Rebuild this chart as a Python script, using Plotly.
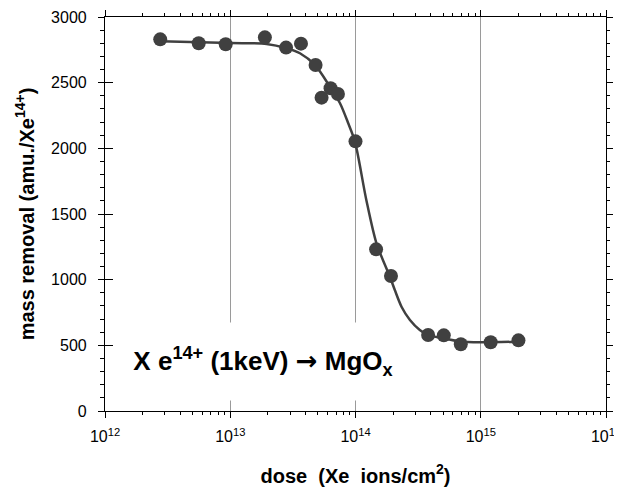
import plotly.graph_objects as go

# Measured data points
dose = [2.76e12, 5.6e12, 9.2e12, 1.89e13, 2.79e13, 3.67e13, 4.8e13, 5.36e13, 6.32e13,
        7.24e13, 1.0e14, 1.46e14, 1.92e14, 3.8e14, 5.07e14, 6.93e14, 1.20e15, 2.0e15]
mass = [2830, 2800, 2792, 2845, 2767, 2797, 2635, 2386, 2457,
        2414, 2053, 1231, 1028, 579, 576, 508, 523, 538]

# Fit curve
fit_dose = [2.76e12, 1.0e13, 1.95e13, 2.82e13, 3.6e13, 4.74e13, 6.25e13, 7.52e13, 8.75e13,
            9.9e13, 1.22e14, 1.47e14, 1.88e14, 2.06e14, 2.33e14, 2.72e14, 3.26e14, 3.8e14,
            5.0e14, 6.8e14, 9.84e14, 2.0e15]
fit_mass = [2815, 2802, 2795, 2762, 2724, 2635, 2469, 2343, 2191,
            2051, 1607, 1277, 1023, 921, 794, 693, 617, 579,
            553, 530, 523, 528]

xtick_vals = [1e12, 1e13, 1e14, 1e15, 1e16]
xtick_text = ["10<sup>12</sup>", "10<sup>13</sup>", "10<sup>14</sup>", "10<sup>15</sup>", "10<sup>16</sup>"]
ytick_vals = [0, 500, 1000, 1500, 2000, 2500, 3000]

dark = "#404040"
font = "Liberation Sans, Arial, sans-serif"

fig = go.Figure()
fig.add_trace(go.Scatter(x=fit_dose, y=fit_mass, mode="lines",
                         line=dict(color=dark, width=2.5, shape="spline", smoothing=0.8),
                         hoverinfo="skip", showlegend=False))
fig.add_trace(go.Scatter(x=dose, y=mass, mode="markers",
                         marker=dict(color=dark, size=14, line=dict(width=0)),
                         showlegend=False))
# invisible traces to anchor the mirrored top/right axes and inner left ticks
fig.add_trace(go.Scatter(x=dose, y=mass, xaxis="x2", yaxis="y2", mode="markers",
                         marker=dict(opacity=0), hoverinfo="skip", showlegend=False))
fig.add_trace(go.Scatter(x=dose, y=mass, xaxis="x", yaxis="y3", mode="markers",
                         marker=dict(opacity=0), hoverinfo="skip", showlegend=False))

fig.add_annotation(x=0.315, y=0.126, xref="paper", yref="paper", xanchor="center", yanchor="middle",
                   text="<b>X e<sup>14+</sup> (1keV) <span style='font-family:DejaVu Sans'>→</span> MgO<sub>x</sub></b>",
                   showarrow=False, width=272, height=77, align="center", valign="middle",
                   font=dict(family=font, size=26, color="black"),
                   bgcolor="white", borderpad=0)

axis_common = dict(showline=True, linecolor="black", linewidth=1.2, zeroline=False,
                   ticks="outside", ticklen=6, tickcolor="black", automargin=False)

fig.update_layout(
    xaxis=dict(type="log", range=[12, 16], tickvals=xtick_vals, ticktext=xtick_text,
               showgrid=True, gridcolor="#9a9a9a", gridwidth=1,
               minor=dict(ticks="outside", ticklen=3, tickcolor="black", dtick="D1", showgrid=False),
               tickfont=dict(family=font, size=16, color="black"),
               ticklabelstandoff=5,
               title=dict(text="<b>dose  (Xe  ions/cm<sup>2</sup>)</b>", standoff=24,
                          font=dict(family=font, size=20, color="black")),
               **axis_common),
    yaxis=dict(range=[0, 3000], tickvals=ytick_vals, showgrid=False,
               minor=dict(ticks="outside", ticklen=4, tickcolor="black", dtick=100, showgrid=False),
               tickfont=dict(family=font, size=16, color="black"),
               ticklabelstandoff=8,
               title=dict(text="<b>mass removal (amu./Xe<sup>14+</sup>)</b>", standoff=11,
                          font=dict(family=font, size=20, color="black")),
               **axis_common),
    yaxis3=dict(range=[0, 3000], overlaying="y", side="left", anchor="x",
                tickvals=ytick_vals, showticklabels=False, showgrid=False, showline=False,
                ticks="inside", ticklen=8, tickcolor="black", zeroline=False, automargin=False),
    xaxis2=dict(type="log", range=[12, 16], overlaying="x", side="top", anchor="y",
                tickvals=xtick_vals, showticklabels=False, showgrid=False,
                minor=dict(ticks="outside", ticklen=3, tickcolor="black", dtick="D1", showgrid=False),
                **axis_common),
    yaxis2=dict(range=[0, 3000], overlaying="y", side="right", anchor="x",
                tickvals=ytick_vals, showticklabels=False, showgrid=False,
                minor=dict(ticks="outside", ticklen=3, tickcolor="black", dtick=100, showgrid=False),
                **axis_common),
    width=622, height=491, margin=dict(l=97, r=24, t=9, b=88),
    plot_bgcolor="white", paper_bgcolor="white", showlegend=False,
)

fig.write_html("out.html")
